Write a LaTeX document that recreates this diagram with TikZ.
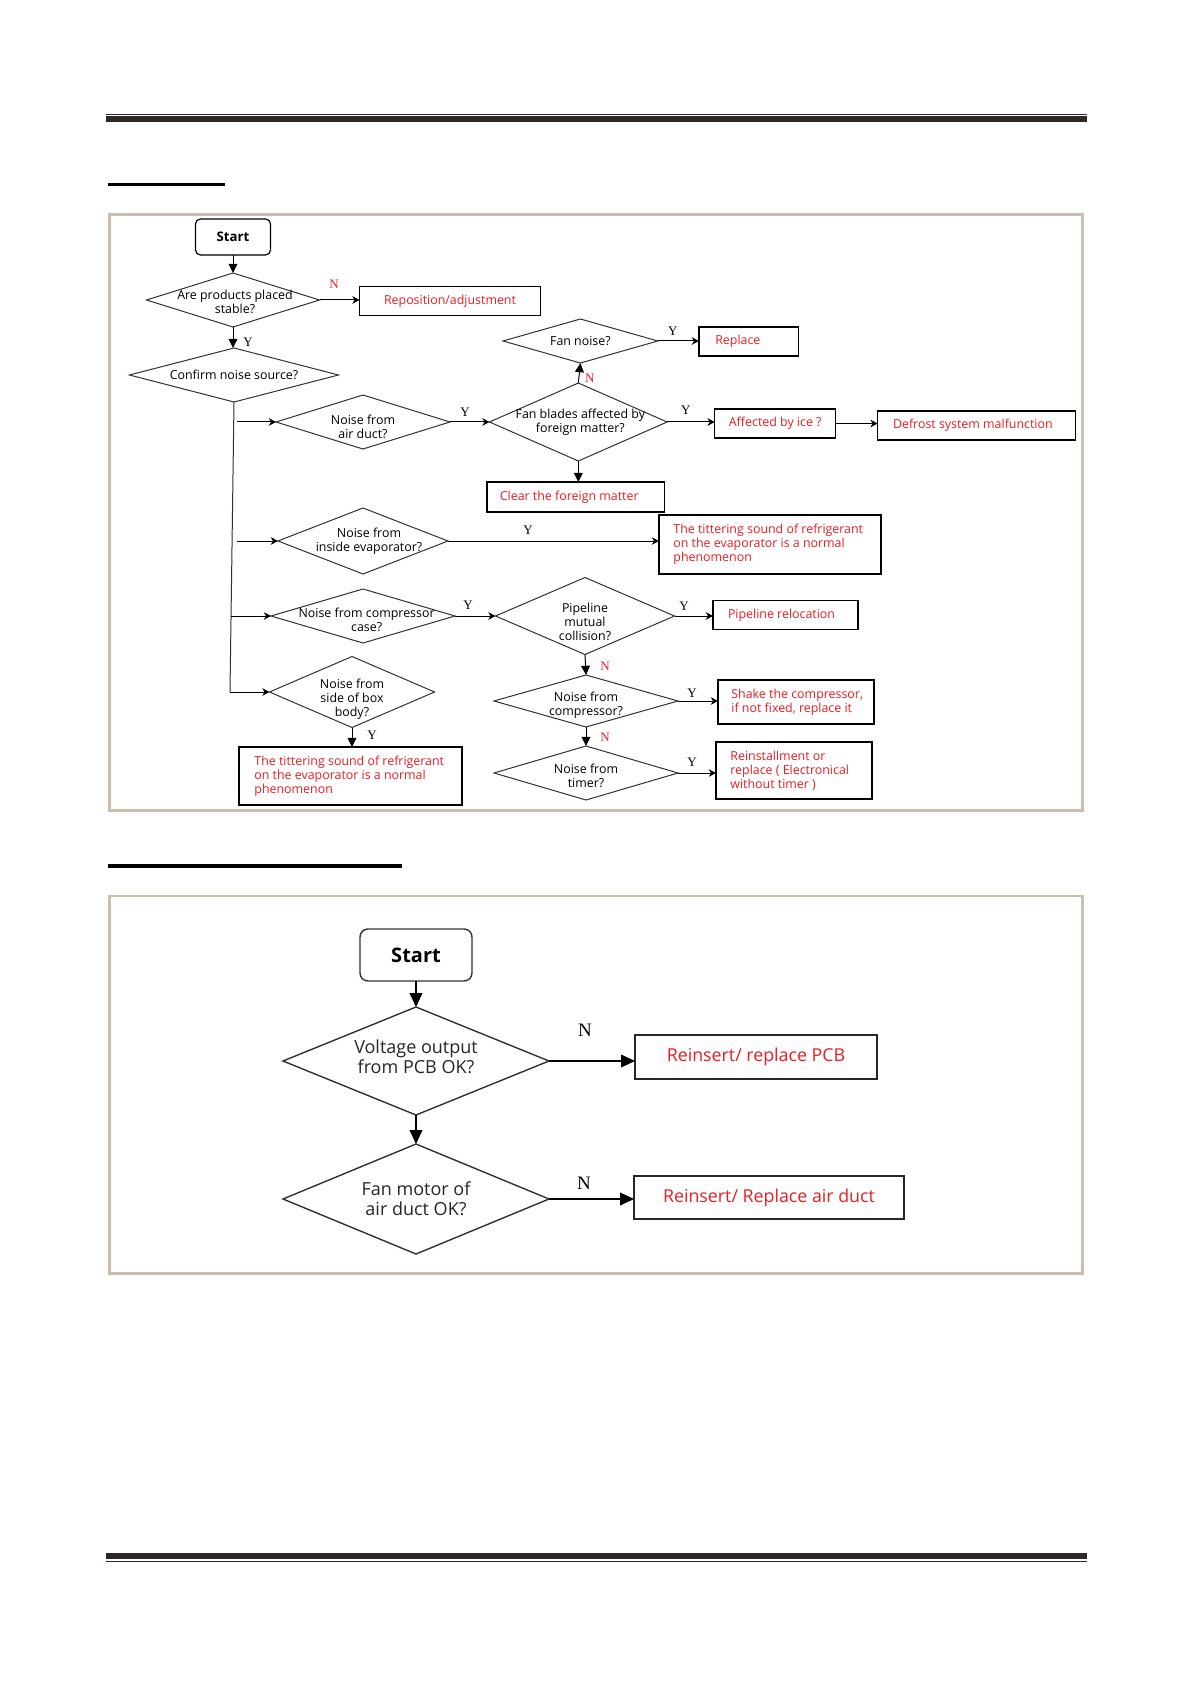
\documentclass[tikz,border=0pt]{standalone}
\usepackage{fontspec}
\setmainfont{Open Sans}
\newfontfamily\ynfont{Liberation Serif}
\usetikzlibrary{arrows.meta,shapes.geometric}
\definecolor{frametan}{RGB}{201,191,172}
\definecolor{ruledark}{RGB}{45,40,38}
\definecolor{txtred}{RGB}{232,30,36}
\definecolor{dgray}{RGB}{50,50,50}
\tikzset{
  dia/.style={diamond, draw=dgray, line width=0.5pt, inner sep=0pt, outer sep=0pt},
  dtxt/.style={font=\fontsize{6.2}{7}\selectfont, align=center, inner sep=0pt, text=black},
  rbox/.style={draw=black, line width=0.6pt, inner sep=0pt, outer sep=0pt, font=\fontsize{6.2}{7}\selectfont, text=txtred, align=center},
  ltxt/.style={anchor=west, align=left, inner sep=0pt, font=\fontsize{6.2}{7}\selectfont, text=txtred},
  ylab/.style={font=\ynfont\fontsize{6.5}{7}\selectfont, inner sep=0pt, text=black},
  nlab/.style={ylab, text=txtred},
  harr/.style={-{Stealth[length=3.6pt,width=3.8pt,inset=1.1pt]}, line width=0.5pt, draw=black},
  varr/.style={-{Triangle[length=4.6pt,width=4.4pt]}, line width=0.5pt, draw=black},
  plainline/.style={line width=0.5pt, draw=dgray},
  startbox/.style={rectangle, rounded corners=2.5pt, draw=black, line width=0.6pt, inner sep=0pt, outer sep=0pt, font=\bfseries\fontsize{6.6}{7}\selectfont},
  dia2/.style={diamond, draw=dgray, line width=0.7pt, inner sep=0pt, outer sep=0pt},
  dtxt2/.style={font=\fontsize{9}{10.2}\selectfont, align=center, inner sep=0pt, text=black!85},
  rbox2/.style={draw=black!85, line width=0.7pt, inner sep=0pt, outer sep=0pt, font=\fontsize{8.9}{10.2}\selectfont, text=txtred},
  ylab2/.style={font=\ynfont\fontsize{9.5}{10}\selectfont, inner sep=0pt, text=black},
  harr2/.style={-{Triangle[length=7pt,width=6.4pt]}, line width=0.65pt, draw=black},
  varr2/.style={-{Triangle[length=7pt,width=6.4pt]}, line width=0.65pt, draw=black},
  startbox2/.style={rectangle, rounded corners=4pt, draw=black!80, line width=0.7pt, inner sep=0pt, outer sep=0pt, font=\bfseries\fontsize{10}{11}\selectfont},
  frame/.style={draw=frametan, line width=1.35pt},
  rulethin/.style={draw=ruledark, line width=0.65pt},
  rulethick/.style={draw=ruledark, line width=2.8pt},
  headline/.style={draw=black, line width=1.65pt}
}
\begin{document}
\begin{tikzpicture}[x=0.5pt,y=-0.5pt]
\useasboundingbox (0,0) rectangle (1191,1684);
\fill[white] (0,0) rectangle (1191,1684);
% page rules
\draw[rulethin] (106,114.3) -- (1086.5,114.3);
\draw[rulethick] (106,119) -- (1086.5,119);
\draw[rulethick] (106,1556.2) -- (1086.5,1556.2);
\draw[rulethin] (106,1561.4) -- (1086.5,1561.4);
% heading underlines
\draw[headline] (108,184.3) -- (225,184.3);
\draw[headline] (108,866) -- (402,866);
% frames
\draw[frame] (109.5,214.5) rectangle (1082.5,810.5);
\draw[frame] (109.5,896) rectangle (1082.5,1273.5);

% ================= upper flowchart =================
\node[startbox, minimum width=37.5pt, minimum height=18pt] (start1) at (233,237) {Start};
\node[dia, minimum width=86.5pt, minimum height=27pt,
      label={[dtxt, xshift=1pt, yshift=-1pt]center:{Are products placed\\stable?}}] (d1) at (233,300) {};
\node[rbox, minimum width=90.5pt, minimum height=14.5pt] (repos) at (450,300.8) {Reposition/adjustment};
\node[nlab] (n1) at (334,284) {N};
\node[dia, minimum width=104.5pt, minimum height=27pt,
      label={[dtxt]center:{Confirm noise source?}}] (d2) at (234,375) {};
\node[ylab] (y1) at (248,342) {Y};
\coordinate (tk) at (230,692);

\node[dia, minimum width=87pt, minimum height=27pt,
      label={[dtxt, yshift=-2.5pt]center:{Noise from\\air duct?}}] (d3) at (363,422) {};
\node[ylab] (y2) at (465,412) {Y};
\node[dia, minimum width=88.8pt, minimum height=39pt,
      label={[dtxt, xshift=1pt]center:{Fan blades affected by\\foreign matter?}}] (d4) at (578.3,422) {};
\node[dia, minimum width=77.4pt, minimum height=22pt,
      label={[dtxt]center:{Fan noise?}}] (d5) at (580.4,341) {};
\node[nlab] (n2) at (589.8,378) {N};
\node[ylab] (y3) at (672.8,331) {Y};
\node[rbox, minimum width=49.9pt, minimum height=14.5pt,
      label={[ltxt, xshift=8pt]west:{Replace}}] (replace) at (748.8,341.5) {};
\node[ylab] (y4) at (685.8,410) {Y};
\node[rbox, minimum width=60.5pt, minimum height=14.5pt] (affected) at (775.2,423.5) {Affected by ice ?};
\node[rbox, minimum width=98.9pt, minimum height=14.5pt,
      label={[ltxt, xshift=7.5pt]west:{Defrost system malfunction}}] (defrost) at (976.5,425.5) {};
\node[rbox, minimum width=88.9pt, minimum height=15pt,
      label={[ltxt, xshift=6.3pt]west:{Clear the foreign matter}}] (clear) at (575.8,497) {};

\node[dia, minimum width=85pt, minimum height=33pt,
      label={[dtxt, xshift=3pt]center:{Noise from\\inside evaporator?}}] (d6) at (363,541) {};
\node[ylab] (y5) at (528,530) {Y};
\node[rbox, minimum width=111pt, minimum height=29.5pt,
      label={[ltxt, xshift=7pt]west:{The tittering sound of refrigerant\\on the evaporator is a normal\\phenomenon}}] (evap) at (770,544.5) {};

\node[dia, minimum width=92pt, minimum height=27pt,
      label={[dtxt, xshift=1.8pt, yshift=-2pt]center:{Noise from compressor\\case?}}] (d7) at (363,616) {};
\node[ylab] (y6) at (468,605) {Y};
\node[dia, minimum width=89.5pt, minimum height=38.5pt,
      label={[dtxt, yshift=-2.7pt]center:{Pipeline\\mutual\\collision?}}] (d8) at (585,616) {};
\node[ylab] (y7) at (684,606) {Y};
\node[rbox, minimum width=72.5pt, minimum height=14.5pt,
      label={[ltxt, xshift=7.3pt]west:{Pipeline relocation}}] (pipeline) at (785.5,615) {};
\node[nlab] (n3) at (605,666) {N};
\node[dia, minimum width=92pt, minimum height=26pt,
      label={[dtxt, yshift=-2.2pt]center:{Noise from\\compressor?}}] (d9) at (586,701) {};
\node[ylab] (y8) at (692,693) {Y};
\node[rbox, minimum width=78pt, minimum height=22pt,
      label={[ltxt, xshift=6.5pt]west:{Shake the compressor,\\if not fixed, replace it}}] (shake) at (796,702) {};
\node[nlab] (n4) at (605,737) {N};
\node[dia, minimum width=92pt, minimum height=27pt,
      label={[dtxt, yshift=-1.6pt]center:{Noise from\\timer?}}] (d10) at (586,773) {};
\node[ylab] (y9) at (692,762) {Y};
\node[rbox, minimum width=78pt, minimum height=28.5pt,
      label={[ltxt, xshift=7pt]west:{Reinstallment or\\replace ( Electronical\\without timer )}}] (reinstall) at (794,770.5) {};

\node[dia, minimum width=82.5pt, minimum height=35.5pt,
      label={[dtxt, yshift=-3.8pt]center:{Noise from\\side of box\\body?}}] (d11) at (352,692) {};
\node[ylab] (y10) at (372,735) {Y};
\node[rbox, minimum width=111.5pt, minimum height=29pt,
      label={[ltxt, xshift=7.5pt]west:{The tittering sound of refrigerant\\on the evaporator is a normal\\phenomenon}}] (bodybox) at (350.5,776) {};

\coordinate (b1) at (237,422);
\coordinate (b2) at (237,541);
\coordinate (b3) at (231,616);

% connectors upper
\draw[varr] (start1.south) -- (start1.south |- d1.north);
\draw[harr] (d1.east) -- (d1.east -| repos.west);
\draw[varr] (d1.south) -- (d1.south |- d2.north);
\draw[plainline] (d2.south) -- (tk);
\draw[harr] (b1) -- (d3.west);
\draw[harr] (d3.east) -- (d4.west);
\draw[varr] (d4.north) -- (d5.south);
\draw[harr] (d5.east) -- (d5.east -| replace.west);
\draw[harr] (d4.east) -- (d4.east -| affected.west);
\draw[harr] (affected.east) -- (affected.east -| defrost.west);
\draw[varr] (d4.south) -- (d4.south |- clear.north);
\draw[harr] (b2) -- (d6.west);
\draw[harr] (d6.east) -- (d6.east -| evap.west);
\draw[harr] (b3) -- (d7.west);
\draw[harr] (d7.east) -- (d8.west);
\draw[harr] (d8.east) -- (d8.east -| pipeline.west);
\draw[varr] (d8.south) -- (d9.north);
\draw[harr] (d9.east) -- (d9.east -| shake.west);
\draw[varr] (d9.south) -- (d10.north);
\draw[harr] (d10.east) -- (d10.east -| reinstall.west);
\draw[harr] (tk) -- (d11.west);
\draw[varr] (d11.south) -- (d11.south |- bodybox.north);

% ================= lower flowchart =================
\node[startbox2, minimum width=56pt, minimum height=26pt] (start2) at (416,955) {Start};
\node[dia2, minimum width=133pt, minimum height=54pt,
      label={[dtxt2, yshift=2pt]center:{Voltage output\\from PCB OK?}}] (d12) at (416,1061) {};
\node[ylab2] (n5) at (585,1030) {N};
\node[rbox2, minimum width=121pt, minimum height=22pt] (pcb) at (756,1057) {Reinsert/ replace PCB};
\node[dia2, minimum width=133pt, minimum height=55pt,
      label={[dtxt2]center:{Fan motor of\\air duct OK?}}] (d13) at (416,1199) {};
\node[ylab2] (n6) at (584,1183) {N};
\node[rbox2, minimum width=135pt, minimum height=21.5pt] (duct) at (769,1197.5) {Reinsert/ Replace air duct};

\draw[varr2] (start2.south) -- (d12.north);
\draw[harr2] (d12.east) -- (d12.east -| pcb.west);
\draw[varr2] (d12.south) -- (d13.north);
\draw[harr2] (d13.east) -- (d13.east -| duct.west);
\end{tikzpicture}
\end{document}
